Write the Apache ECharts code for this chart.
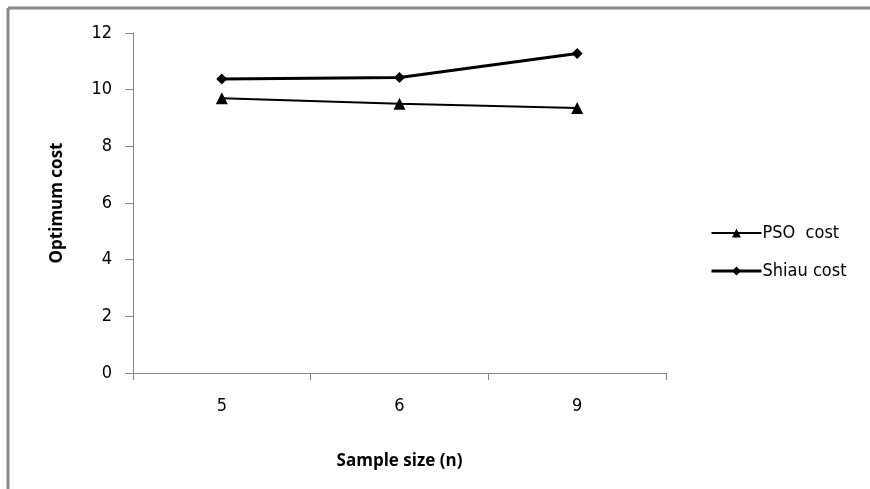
<!DOCTYPE html>
<html><head><meta charset="utf-8">
<script src="https://cdn.jsdelivr.net/npm/echarts@6/dist/echarts.min.js"></script>
<style>html,body{margin:0;padding:0;background:#fff}#c{width:870px;height:489px}</style>
</head><body><div id="c"></div>
<script>
const categories = ['5', '6', '9'];
const psoCost = [9.70, 9.50, 9.35];
const shiauCost = [10.38, 10.43, 11.28];
const yTicks = [0, 2, 4, 6, 8, 10, 12];

const FONT = "'DejaVu Sans Condensed', 'Open Sans', sans-serif";
const BOLD = "'Open Sans', sans-serif";
const chart = echarts.init(document.getElementById('c'), null, {renderer: 'canvas'});
chart.setOption({
  animation: false,
  backgroundColor: '#fff',
  graphic: [
    {type: 'line', shape: {x1: 8, y1: 8, x2: 870, y2: 8}, style: {stroke: '#888', lineWidth: 3}},
    {type: 'line', shape: {x1: 8, y1: 8, x2: 8, y2: 489}, style: {stroke: '#888', lineWidth: 3}}
  ],
  grid: {left: 133, top: 33, right: 204, bottom: 116, containLabel: false},
  legend: {
    orient: 'vertical', left: 705, top: 219, itemGap: 20, itemWidth: 50, itemHeight: 11,
    textStyle: {fontFamily: FONT, fontSize: 18, color: '#000', padding: [0, 0, 0, -4]},
    data: [
      {name: 'PSO  cost', lineStyle: {width: 2}},
      {name: 'Shiau cost', lineStyle: {width: 3}}
    ]
  },
  xAxis: {
    type: 'category', data: categories, boundaryGap: true,
    name: 'Sample size (n)', nameLocation: 'middle', nameGap: 80,
    nameTextStyle: {fontFamily: BOLD, fontWeight: 'bold', fontSize: 17, color: '#000'},
    axisLine: {lineStyle: {color: '#868686', width: 1}},
    axisTick: {show: true, inside: false, length: 7, lineStyle: {color: '#868686'}},
    axisLabel: {fontFamily: FONT, fontSize: 18, color: '#000', margin: 24}
  },
  yAxis: {
    type: 'value', min: 0, max: 12, interval: 2,
    name: 'Optimum cost', nameLocation: 'middle', nameGap: 67,
    nameTextStyle: {fontFamily: BOLD, fontWeight: 'bold', fontSize: 17, color: '#000'},
    axisLine: {show: true, lineStyle: {color: '#868686', width: 1}},
    axisTick: {show: true, inside: false, length: 8, lineStyle: {color: '#868686'}},
    splitLine: {show: false},
    axisLabel: {fontFamily: FONT, fontSize: 18, color: '#000', margin: 21,
      formatter: v => yTicks.includes(v) ? String(v) : ''}
  },
  series: [
    {name: 'PSO  cost', type: 'line', data: psoCost, symbol: 'triangle', symbolSize: 12,
     lineStyle: {color: '#000', width: 2}, itemStyle: {color: '#000'}},
    {name: 'Shiau cost', type: 'line', data: shiauCost, symbol: 'diamond', symbolSize: 11,
     lineStyle: {color: '#000', width: 3}, itemStyle: {color: '#000'}}
  ]
});
</script></body></html>
